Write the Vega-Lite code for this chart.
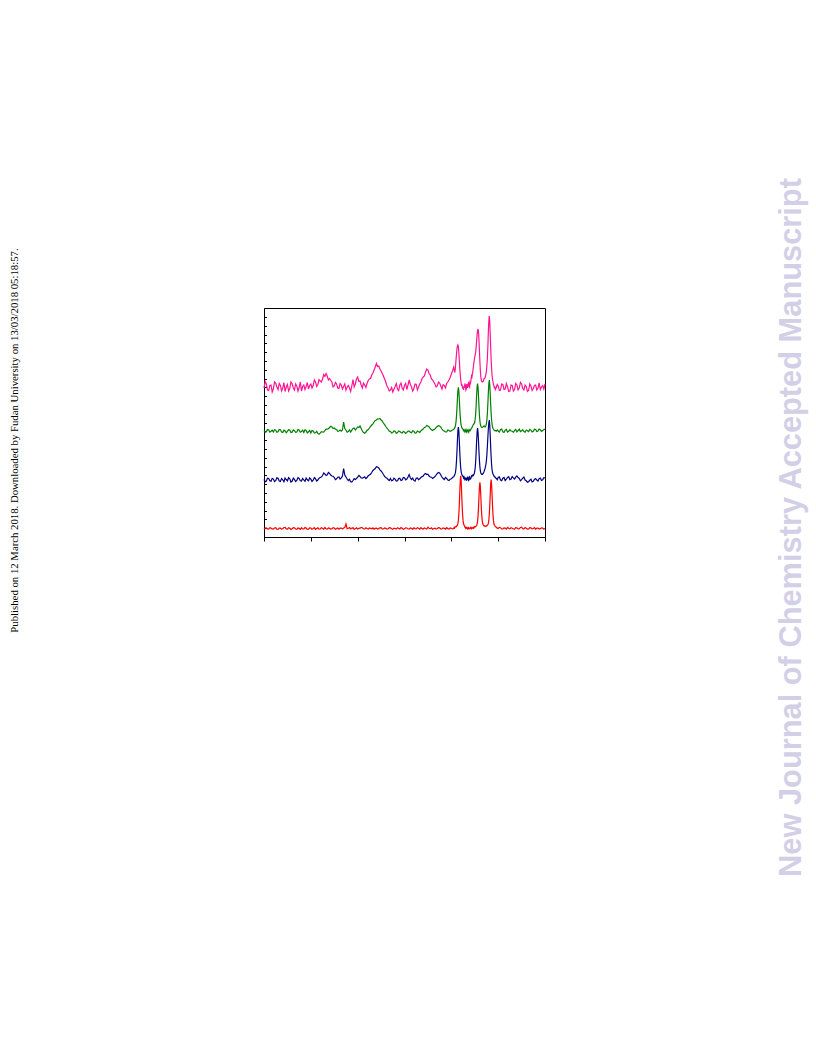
{
"$schema": "https://vega.github.io/schema/vega-lite/v6.json",
"width": 281, "height": 229,
"autosize": {"type": "none"},
"padding": {"left": 264, "top": 308, "right": 271, "bottom": 519},
"background": "white",
"config": {"view": {"stroke": "black", "strokeWidth": 1}, "axis": {"grid": false}},
"resolve": {"axis": {"y": "independent"}},
"layer": [
{
"data": {"values": [
{"x":0,"r":8.0,"b":57.5,"g":106.5,"p":149},
{"x":0.25,"r":9.0,"b":55.2,"g":104.8,"p":155.5},
{"x":0.5,"r":9.2,"b":56.0,"g":105.2,"p":153},
{"x":0.75,"r":8.0,"b":58.9,"g":107.4,"p":147},
{"x":1,"r":7.8,"b":58.6,"g":107.0,"p":146.5},
{"x":1.25,"r":9.3,"b":56.3,"g":104.9,"p":151.5},
{"x":1.5,"r":8.9,"b":55.8,"g":105.8,"p":152},
{"x":1.75,"r":7.9,"b":58.7,"g":106.9,"p":145},
{"x":2,"r":8.1,"b":57.9,"g":104.9,"p":148},
{"x":2.25,"r":9.0,"b":55.4,"g":107.3,"p":155},
{"x":2.5,"r":9.4,"b":56.4,"g":106.8,"p":154},
{"x":2.75,"r":7.7,"b":59.3,"g":104.7,"p":150},
{"x":3,"r":7.6,"b":58.8,"g":105.3,"p":147.5},
{"x":3.25,"r":8.9,"b":56.0,"g":107.5,"p":153.5},
{"x":3.5,"r":8.8,"b":55.5,"g":107.2,"p":151.5},
{"x":3.75,"r":7.9,"b":58.4,"g":105.0,"p":146},
{"x":4,"r":8.3,"b":57.2,"g":104.6,"p":149},
{"x":4.25,"r":9.5,"b":55.3,"g":106.8,"p":154.5},
{"x":4.5,"r":9.6,"b":59.0,"g":106.1,"p":145.5},
{"x":4.75,"r":8.1,"b":57.5,"g":104.3,"p":150},
{"x":5,"r":7.9,"b":56.2,"g":105.6,"p":152.5},
{"x":5.25,"r":9.2,"b":59.3,"g":107.3,"p":146},
{"x":5.5,"r":8.7,"b":58.1,"g":106.9,"p":148.5},
{"x":5.75,"r":7.6,"b":55.0,"g":104.5,"p":155},
{"x":6,"r":8.2,"b":55.7,"g":104.8,"p":153.5},
{"x":6.25,"r":9.4,"b":58.8,"g":107.1,"p":149},
{"x":6.5,"r":9.1,"b":57.6,"g":106.3,"p":147},
{"x":6.75,"r":8.0,"b":55.4,"g":104.6,"p":153},
{"x":7,"r":7.7,"b":56.6,"g":105.0,"p":151},
{"x":7.25,"r":9.0,"b":59.4,"g":107.4,"p":146},
{"x":7.5,"r":8.6,"b":58.5,"g":107.0,"p":149.5},
{"x":7.75,"r":7.7,"b":56.2,"g":104.8,"p":155},
{"x":8,"r":9.3,"b":55.9,"g":105.4,"p":146},
{"x":8.25,"r":8.1,"b":58.6,"g":106.9,"p":150.5},
{"x":8.5,"r":8.0,"b":57.0,"g":104.5,"p":152},
{"x":8.75,"r":9.4,"b":55.6,"g":107.2,"p":147.5},
{"x":9,"r":8.9,"b":58.9,"g":106.6,"p":150.5},
{"x":9.25,"r":7.6,"b":57.2,"g":104.1,"p":154.5},
{"x":9.5,"r":7.8,"b":56.3,"g":105.2,"p":148},
{"x":9.75,"r":9.1,"b":59.1,"g":106.7,"p":151.5},
{"x":10,"r":9.0,"b":57.8,"g":104.0,"p":153},
{"x":10.25,"r":7.8,"b":55.6,"g":106.4,"p":149},
{"x":10.5,"r":8.4,"b":56.8,"g":106.0,"p":151.5},
{"x":10.75,"r":9.3,"b":59.4,"g":103.9,"p":157},
{"x":11,"r":7.6,"b":58.3,"g":104.2,"p":155},
{"x":11.25,"r":8.5,"b":56.0,"g":105.6,"p":150.5},
{"x":11.5,"r":9.2,"b":56.9,"g":103.6,"p":152.5},
{"x":11.75,"r":7.9,"b":58.8,"g":102.8,"p":157.5},
{"x":12,"r":8.1,"b":59.5,"g":103.9,"p":156},
{"x":12.25,"r":9.2,"b":60.0,"g":105.4,"p":155},
{"x":12.5,"r":8.8,"b":61.5,"g":105.0,"p":158},
{"x":12.75,"r":7.8,"b":64.0,"g":104.8,"p":162.5},
{"x":13,"r":9.5,"b":63.0,"g":106.5,"p":160.5},
{"x":13.25,"r":8.3,"b":61.5,"g":107.9,"p":163.5},
{"x":13.5,"r":7.9,"b":62.2,"g":107.8,"p":161},
{"x":13.75,"r":9.0,"b":64.5,"g":108.3,"p":157},
{"x":14,"r":8.6,"b":63.5,"g":109.5,"p":158.5},
{"x":14.25,"r":7.9,"b":62.0,"g":110.8,"p":156.5},
{"x":14.5,"r":8.2,"b":61.0,"g":110.0,"p":155},
{"x":14.75,"r":9.3,"b":60.8,"g":108.5,"p":150},
{"x":15,"r":9.0,"b":59.5,"g":109.0,"p":151},
{"x":15.25,"r":7.8,"b":57.3,"g":107.8,"p":154.5},
{"x":15.5,"r":8.4,"b":58.2,"g":107.5,"p":153},
{"x":15.75,"r":9.1,"b":59.8,"g":105.6,"p":149},
{"x":16,"r":7.8,"b":60.0,"g":106.0,"p":148.5},
{"x":16.25,"r":8.8,"b":57.9,"g":106.9,"p":153.5},
{"x":16.5,"r":8.9,"b":59.2,"g":105.8,"p":152},
{"x":16.75,"r":8.0,"b":61.0,"g":107.0,"p":148},
{"x":17,"r":9.0,"b":68.5,"g":115.0,"p":150.5},
{"x":17.25,"r":9.5,"b":62.0,"g":108.5,"p":153},
{"x":17.5,"r":13.0,"b":60.0,"g":107.0,"p":147},
{"x":17.75,"r":8.3,"b":58.0,"g":104.8,"p":150},
{"x":18,"r":8.7,"b":56.5,"g":105.5,"p":151.5},
{"x":18.25,"r":9.4,"b":57.8,"g":107.2,"p":149},
{"x":18.5,"r":8.0,"b":55.3,"g":105.0,"p":145.5},
{"x":18.75,"r":8.9,"b":55.0,"g":106.8,"p":151},
{"x":19,"r":9.2,"b":56.5,"g":108.5,"p":157.5},
{"x":19.25,"r":7.8,"b":58.3,"g":109.0,"p":150},
{"x":19.5,"r":8.3,"b":57.5,"g":107.0,"p":153},
{"x":19.75,"r":9.1,"b":58.5,"g":108.4,"p":158},
{"x":20,"r":7.9,"b":59.8,"g":110.0,"p":160},
{"x":20.25,"r":8.6,"b":61.5,"g":109.5,"p":155.5},
{"x":20.5,"r":8.8,"b":60.5,"g":111.0,"p":156},
{"x":20.75,"r":9.5,"b":59.0,"g":108.5,"p":152},
{"x":21,"r":9.3,"b":58.8,"g":106.0,"p":149},
{"x":21.25,"r":8.0,"b":59.6,"g":104.4,"p":154},
{"x":21.5,"r":8.1,"b":60.2,"g":103.8,"p":152},
{"x":21.75,"r":9.2,"b":58.4,"g":105.0,"p":149.5},
{"x":22,"r":8.6,"b":59.5,"g":106.5,"p":153.5},
{"x":22.25,"r":7.9,"b":61.2,"g":107.5,"p":156.5},
{"x":22.5,"r":9.0,"b":62.0,"g":109.0,"p":158},
{"x":22.75,"r":8.7,"b":62.8,"g":110.6,"p":158.5},
{"x":23,"r":8.2,"b":64.5,"g":112.0,"p":162},
{"x":23.25,"r":9.1,"b":66.5,"g":113.2,"p":164},
{"x":23.5,"r":7.8,"b":67.5,"g":115.0,"p":167},
{"x":23.75,"r":8.6,"b":68.5,"g":116.5,"p":170},
{"x":24,"r":8.9,"b":70.3,"g":117.0,"p":173.5},
{"x":24.25,"r":8.0,"b":70.0,"g":118.2,"p":170.5},
{"x":24.5,"r":8.4,"b":69.0,"g":118.0,"p":171},
{"x":24.75,"r":9.2,"b":67.2,"g":118.5,"p":168},
{"x":25,"r":9.4,"b":66.0,"g":117.0,"p":166},
{"x":25.25,"r":8.1,"b":64.5,"g":115.8,"p":163.5},
{"x":25.5,"r":8.0,"b":62.5,"g":114.0,"p":161},
{"x":25.75,"r":9.0,"b":60.6,"g":112.3,"p":158},
{"x":26,"r":8.7,"b":59.5,"g":110.5,"p":155},
{"x":26.25,"r":7.9,"b":58.8,"g":109.0,"p":151},
{"x":26.5,"r":8.2,"b":57.5,"g":107.5,"p":149},
{"x":26.75,"r":9.3,"b":56.5,"g":105.8,"p":146},
{"x":27,"r":9.1,"b":58.5,"g":105.5,"p":147},
{"x":27.25,"r":8.2,"b":56.2,"g":104.0,"p":149.5},
{"x":27.5,"r":7.7,"b":56.8,"g":104.5,"p":145},
{"x":27.75,"r":8.9,"b":58.8,"g":106.0,"p":148},
{"x":28,"r":8.5,"b":57.9,"g":105.8,"p":150.5},
{"x":28.25,"r":7.9,"b":55.9,"g":103.8,"p":153.5},
{"x":28.5,"r":9.3,"b":56.2,"g":104.2,"p":148},
{"x":28.75,"r":8.6,"b":58.4,"g":106.0,"p":146.5},
{"x":29,"r":8.0,"b":58.8,"g":105.5,"p":152},
{"x":29.25,"r":9.4,"b":56.5,"g":104.5,"p":154},
{"x":29.5,"r":8.8,"b":57.0,"g":103.9,"p":149},
{"x":29.75,"r":7.8,"b":59.5,"g":105.6,"p":147},
{"x":30,"r":8.3,"b":59.3,"g":105.0,"p":151.5},
{"x":30.25,"r":9.2,"b":57.2,"g":103.6,"p":153.5},
{"x":30.5,"r":9.0,"b":58.0,"g":104.6,"p":147.5},
{"x":30.75,"r":8.2,"b":60.0,"g":105.9,"p":152},
{"x":31,"r":7.9,"b":62.5,"g":106.0,"p":157},
{"x":31.25,"r":9.0,"b":59.0,"g":104.8,"p":152.5},
{"x":31.5,"r":8.6,"b":57.5,"g":104.3,"p":150},
{"x":31.75,"r":7.8,"b":58.9,"g":106.2,"p":146},
{"x":32,"r":9.2,"b":56.6,"g":105.7,"p":148.5},
{"x":32.25,"r":8.4,"b":55.8,"g":103.9,"p":153},
{"x":32.5,"r":8.1,"b":58.7,"g":104.0,"p":152.5},
{"x":32.75,"r":9.3,"b":59.1,"g":106.0,"p":147},
{"x":33,"r":8.7,"b":57.3,"g":105.2,"p":150},
{"x":33.25,"r":7.9,"b":58.2,"g":104.6,"p":153},
{"x":33.5,"r":9.4,"b":59.5,"g":106.2,"p":155},
{"x":33.75,"r":8.3,"b":60.4,"g":107.3,"p":158.5},
{"x":34,"r":8.0,"b":61.0,"g":108.0,"p":160},
{"x":34.25,"r":9.1,"b":62.8,"g":109.5,"p":161},
{"x":34.5,"r":8.5,"b":63.5,"g":110.0,"p":165},
{"x":34.75,"r":8.0,"b":62.5,"g":111.5,"p":168},
{"x":35,"r":9.8,"b":62.8,"g":111.0,"p":167},
{"x":35.25,"r":8.7,"b":61.0,"g":110.0,"p":163.5},
{"x":35.5,"r":8.3,"b":60.0,"g":108.5,"p":162},
{"x":35.75,"r":9.2,"b":59.8,"g":107.2,"p":158},
{"x":36,"r":7.8,"b":58.5,"g":106.5,"p":157},
{"x":36.25,"r":8.5,"b":59.4,"g":107.4,"p":155},
{"x":36.5,"r":8.9,"b":60.5,"g":108.0,"p":153},
{"x":36.75,"r":7.9,"b":62.0,"g":109.6,"p":150},
{"x":37,"r":8.4,"b":63.5,"g":110.5,"p":151},
{"x":37.25,"r":9.3,"b":64.5,"g":111.3,"p":155},
{"x":37.5,"r":9.1,"b":64.0,"g":111.0,"p":154},
{"x":37.75,"r":8.0,"b":62.0,"g":109.8,"p":151},
{"x":38,"r":8.2,"b":60.0,"g":108.0,"p":148},
{"x":38.25,"r":9.0,"b":58.5,"g":106.5,"p":152.5},
{"x":38.5,"r":8.7,"b":57.5,"g":106.0,"p":151.5},
{"x":38.75,"r":7.9,"b":59.6,"g":105.0,"p":149},
{"x":39,"r":9.3,"b":58.5,"g":105.0,"p":153.5},
{"x":39.25,"r":8.4,"b":57.0,"g":107.0,"p":155},
{"x":39.5,"r":8.0,"b":56.5,"g":106.5,"p":157},
{"x":39.75,"r":9.0,"b":57.8,"g":105.6,"p":159.5},
{"x":40,"r":8.8,"b":58.2,"g":106.3,"p":163},
{"x":40.25,"r":8.1,"b":59.5,"g":107.0,"p":166},
{"x":40.5,"r":8.5,"b":60.2,"g":107.6,"p":170},
{"x":40.6,"r":9.5,"b":61.1,"g":108.2,"p":168},
{"x":40.7,"r":8.9,"b":61.8,"g":108.8,"p":164.5},
{"x":40.8,"r":9.9,"b":63.1,"g":109.9,"p":166},
{"x":40.9,"r":10.0,"b":65.2,"g":111.7,"p":171},
{"x":41.0,"r":10.5,"b":69.3,"g":115.2,"p":177},
{"x":41.1,"r":10.3,"b":76.0,"g":120.9,"p":183},
{"x":41.2,"r":11.4,"b":85.3,"g":128.7,"p":188},
{"x":41.3,"r":11.6,"b":96.6,"g":138.3,"p":191},
{"x":41.4,"r":13.6,"b":105.9,"g":146.2,"p":192},
{"x":41.5,"r":16.4,"b":110.0,"g":149.7,"p":190.5},
{"x":41.6,"r":22.9,"b":105.9,"g":146.2,"p":185},
{"x":41.7,"r":32.3,"b":96.6,"g":138.3,"p":177},
{"x":41.8,"r":44.4,"b":85.3,"g":128.7,"p":169},
{"x":41.9,"r":56.0,"b":76.0,"g":120.9,"p":162.5},
{"x":42.0,"r":61.2,"b":69.3,"g":115.2,"p":157.5},
{"x":42.1,"r":56.0,"b":65.2,"g":111.7,"p":154},
{"x":42.2,"r":44.4,"b":63.1,"g":109.9,"p":151},
{"x":42.3,"r":32.3,"b":61.8,"g":108.8,"p":152.5},
{"x":42.4,"r":22.9,"b":61.1,"g":108.2,"p":148.5},
{"x":42.5,"r":16.6,"b":60.6,"g":107.7,"p":150},
{"x":42.6,"r":13.4,"b":59.0,"g":106.5,"p":147},
{"x":42.7,"r":11.9,"b":60.2,"g":107.4,"p":151},
{"x":42.8,"r":10.9,"b":58.8,"g":106.2,"p":149.5},
{"x":42.9,"r":9.8,"b":57.4,"g":105.0,"p":153.5},
{"x":43.0,"r":10.0,"b":58.2,"g":106.5,"p":152},
{"x":43.1,"r":8.6,"b":59.6,"g":107.4,"p":147},
{"x":43.2,"r":9.2,"b":56.8,"g":105.2,"p":148},
{"x":43.3,"r":9.7,"b":57.2,"g":104.6,"p":153},
{"x":43.4,"r":8.4,"b":58.9,"g":107.0,"p":151.5},
{"x":43.5,"r":8.0,"b":59.8,"g":106.9,"p":149},
{"x":43.6,"r":9.3,"b":57.3,"g":105.8,"p":153},
{"x":43.7,"r":9.5,"b":56.6,"g":104.9,"p":155},
{"x":43.8,"r":8.1,"b":59.4,"g":107.5,"p":151},
{"x":43.9,"r":8.4,"b":60.0,"g":107.0,"p":150},
{"x":44.0,"r":9.0,"b":57.8,"g":106.2,"p":155},
{"x":44.1,"r":9.6,"b":58.0,"g":107.2,"p":154},
{"x":44.2,"r":8.5,"b":59.0,"g":108.0,"p":157},
{"x":44.3,"r":8.2,"b":61.0,"g":108.4,"p":161},
{"x":44.4,"r":9.4,"b":60.5,"g":109.5,"p":160},
{"x":44.5,"r":9.0,"b":61.4,"g":110.6,"p":163},
{"x":44.6,"r":8.8,"b":62.0,"g":111.5,"p":166},
{"x":44.7,"r":9.6,"b":61.5,"g":112.5,"p":170},
{"x":44.8,"r":8.9,"b":62.5,"g":113.0,"p":174},
{"x":44.9,"r":9.8,"b":63.5,"g":113.5,"p":177},
{"x":45.0,"r":10.4,"b":65.5,"g":115.0,"p":180},
{"x":45.1,"r":10.0,"b":69.5,"g":118.0,"p":182},
{"x":45.2,"r":10.6,"b":76.0,"g":123.5,"p":185},
{"x":45.3,"r":11.0,"b":85.0,"g":132.0,"p":190},
{"x":45.4,"r":11.3,"b":96.0,"g":142.0,"p":196},
{"x":45.5,"r":12.9,"b":105.0,"g":150.0,"p":202},
{"x":45.6,"r":15.6,"b":109.0,"g":153.3,"p":206.5},
{"x":45.7,"r":21.1,"b":105.0,"g":149.6,"p":208},
{"x":45.8,"r":29.4,"b":96.0,"g":141.0,"p":205},
{"x":45.9,"r":40.0,"b":85.5,"g":130.6,"p":197},
{"x":46.0,"r":50.1,"b":76.5,"g":122.0,"p":186},
{"x":46.1,"r":54.7,"b":70.0,"g":116.0,"p":175},
{"x":46.2,"r":50.3,"b":66.0,"g":112.5,"p":166},
{"x":46.3,"r":40.4,"b":64.0,"g":110.8,"p":160},
{"x":46.4,"r":29.8,"b":63.0,"g":110.0,"p":157},
{"x":46.5,"r":21.6,"b":62.5,"g":109.5,"p":155.5},
{"x":46.6,"r":16.2,"b":62.5,"g":109.5,"p":155},
{"x":46.7,"r":13.5,"b":63.0,"g":109.8,"p":155},
{"x":46.8,"r":12.3,"b":63.5,"g":110.3,"p":155.5},
{"x":46.9,"r":11.5,"b":64.5,"g":110.8,"p":157},
{"x":47.0,"r":11.0,"b":65.5,"g":111.2,"p":158.5},
{"x":47.1,"r":11.2,"b":67.0,"g":110.5,"p":158.5},
{"x":47.2,"r":10.8,"b":68.5,"g":110.0,"p":159.5},
{"x":47.3,"r":10.6,"b":70.5,"g":110.5,"p":161},
{"x":47.4,"r":11.0,"b":73.0,"g":111.5,"p":163},
{"x":47.5,"r":10.9,"b":77.0,"g":113.5,"p":166.5},
{"x":47.6,"r":11.2,"b":83.0,"g":117.5,"p":172},
{"x":47.7,"r":11.8,"b":91.0,"g":124.0,"p":179.5},
{"x":47.8,"r":12.3,"b":100.0,"g":133.0,"p":190.5},
{"x":47.9,"r":13.6,"b":108.0,"g":144.0,"p":204.5},
{"x":48.0,"r":16.3,"b":114.0,"g":153.0,"p":216},
{"x":48.1,"r":22.2,"b":117.0,"g":157.0,"p":221},
{"x":48.2,"r":30.9,"b":112.0,"g":152.5,"p":215.5},
{"x":48.3,"r":42.1,"b":102.0,"g":143.5,"p":203.5},
{"x":48.4,"r":52.6,"b":90.0,"g":132.5,"p":190},
{"x":48.5,"r":57.4,"b":80.0,"g":123.5,"p":177.5},
{"x":48.6,"r":52.5,"b":72.0,"g":117.0,"p":168},
{"x":48.7,"r":41.8,"b":67.0,"g":112.5,"p":161.5},
{"x":48.8,"r":30.6,"b":64.5,"g":110.0,"p":157.5},
{"x":48.9,"r":21.9,"b":63.0,"g":108.5,"p":155},
{"x":49.0,"r":16.1,"b":62.0,"g":107.8,"p":152.5},
{"x":49.1,"r":13.2,"b":61.0,"g":107.0,"p":151},
{"x":49.2,"r":11.7,"b":60.5,"g":106.8,"p":148.5},
{"x":49.3,"r":11.0,"b":60.0,"g":106.2,"p":150.5},
{"x":49.4,"r":10.5,"b":59.5,"g":106.5,"p":147.5},
{"x":49.6,"r":9.8,"b":58.5,"g":105.8,"p":149.5},
{"x":49.8,"r":8.9,"b":57.2,"g":107.0,"p":152.5},
{"x":50,"r":8.6,"b":59.5,"g":106.0,"p":151},
{"x":50.25,"r":9.6,"b":60.1,"g":105.0,"p":146.5},
{"x":50.5,"r":9.3,"b":57.0,"g":107.5,"p":147},
{"x":50.75,"r":8.1,"b":56.3,"g":108.0,"p":153},
{"x":51,"r":8.0,"b":58.8,"g":105.2,"p":152.5},
{"x":51.25,"r":9.1,"b":59.5,"g":104.5,"p":147.5},
{"x":51.5,"r":8.9,"b":56.5,"g":106.8,"p":148},
{"x":51.75,"r":7.9,"b":57.9,"g":107.6,"p":153.5},
{"x":52,"r":9.6,"b":59.6,"g":104.9,"p":150},
{"x":52.25,"r":8.7,"b":60.4,"g":105.8,"p":145.5},
{"x":52.5,"r":8.2,"b":57.3,"g":107.3,"p":146},
{"x":52.75,"r":9.2,"b":58.0,"g":106.0,"p":152},
{"x":53,"r":8.7,"b":60.5,"g":105.8,"p":151.5},
{"x":53.25,"r":8.0,"b":59.2,"g":104.6,"p":146},
{"x":53.5,"r":7.9,"b":58.0,"g":106.5,"p":147.5},
{"x":53.75,"r":9.3,"b":59.8,"g":107.6,"p":153.5},
{"x":54,"r":9.1,"b":61.0,"g":105.0,"p":152},
{"x":54.25,"r":8.1,"b":59.5,"g":106.4,"p":147},
{"x":54.5,"r":8.4,"b":58.6,"g":107.8,"p":149},
{"x":54.75,"r":9.5,"b":56.2,"g":105.4,"p":154.5},
{"x":55,"r":9.8,"b":57.4,"g":106.2,"p":153},
{"x":55.25,"r":8.4,"b":58.8,"g":107.4,"p":148.5},
{"x":55.5,"r":8.1,"b":59.9,"g":105.5,"p":147},
{"x":55.75,"r":9.4,"b":57.0,"g":104.8,"p":152},
{"x":56,"r":8.8,"b":56.2,"g":107.0,"p":150.5},
{"x":56.25,"r":7.9,"b":54.8,"g":106.2,"p":145.5},
{"x":56.5,"r":8.0,"b":55.3,"g":105.3,"p":146.5},
{"x":56.75,"r":9.3,"b":56.8,"g":107.6,"p":153},
{"x":57,"r":9.2,"b":57.8,"g":106.9,"p":151},
{"x":57.25,"r":8.2,"b":55.0,"g":105.0,"p":146.5},
{"x":57.5,"r":8.5,"b":55.6,"g":105.7,"p":148.5},
{"x":57.75,"r":9.4,"b":57.6,"g":107.9,"p":151.5},
{"x":58,"r":7.8,"b":58.5,"g":107.6,"p":152},
{"x":58.25,"r":8.8,"b":56.9,"g":105.6,"p":147},
{"x":58.5,"r":8.9,"b":56.0,"g":106.0,"p":149},
{"x":58.75,"r":8.0,"b":58.4,"g":107.9,"p":154},
{"x":59,"r":8.3,"b":58.9,"g":107.2,"p":147.5},
{"x":59.25,"r":9.2,"b":56.5,"g":105.6,"p":150},
{"x":59.5,"r":9.0,"b":57.2,"g":106.4,"p":151.5},
{"x":59.75,"r":7.9,"b":59.3,"g":107.5,"p":148},
{"x":60,"r":8.6,"b":59.0,"g":107.8,"p":153}
]},
"transform": [{"fold": ["p", "g", "b", "r"], "as": ["s", "h"]}],
"mark": {"type": "line", "strokeWidth": 1.2},
"encoding": {
"x": {"field": "x", "type": "quantitative", "scale": {"domain": [0, 60], "nice": false, "zero": false},
"axis": {"values": [0, 10, 20, 30, 40, 50, 60], "labels": false, "title": null, "tickSize": 4, "tickColor": "black", "tickWidth": 1, "domainColor": "black", "domainWidth": 1}},
"y": {"field": "h", "type": "quantitative", "scale": {"domain": [0, 229], "nice": false, "zero": false},
"axis": {"orient": "left", "values": [8.8,17.6,26.4,35.2,44,52.8,61.6,70.4,79.2,88,96.8,105.6,114.4,123.2,132,140.8,149.6,158.4,167.2,176,184.8,193.6,202.4,211.2,220], "labels": false, "tickSize": -2.5, "tickColor": "black", "tickWidth": 1, "domainColor": "black", "domainWidth": 1,
"title": "Published on 12 March 2018. Downloaded by Fudan University on 13/03/2018 05:18:57.", "titleFont": "Liberation Serif", "titleFontSize": 10.75, "titleFontWeight": "normal", "titleColor": "black", "titleAngle": 270, "titleX": -247, "titleY": 132, "titleAlign": "center", "titleBaseline": "alphabetic"}},
"color": {"field": "s", "type": "nominal", "scale": {"domain": ["p", "g", "b", "r"], "range": ["#ff1493", "#008000", "#000080", "#ff0000"]}, "legend": null}
}
},
{
"data": {"values": [{"v": 0}]},
"mark": {"type": "rule", "opacity": 0},
"encoding": {
"y": {"field": "v", "type": "quantitative", "scale": {"domain": [0, 229]},
"axis": {"orient": "right", "domain": false, "ticks": false, "labels": false, "grid": false,
"title": "New Journal of Chemistry Accepted Manuscript", "titleFont": "Liberation Sans", "titleFontSize": 30.8, "titleFontWeight": "bold", "titleColor": "#d3cfe6", "titleAngle": 270, "titleX": 255, "titleY": 219, "titleAlign": "center", "titleBaseline": "alphabetic"}}
}
}
]
}
